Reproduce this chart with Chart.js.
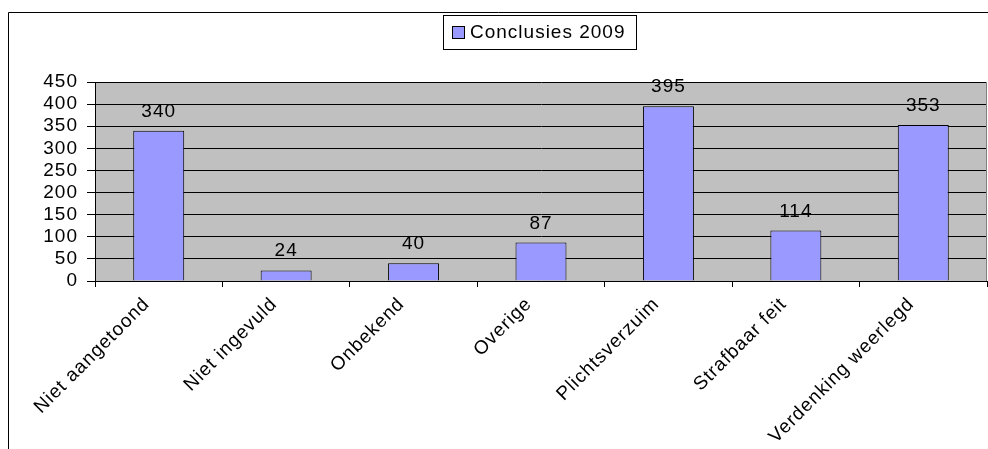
<!DOCTYPE html>
<html><head><meta charset="utf-8">
<script src="https://cdn.jsdelivr.net/npm/chart.js@4.4.0/dist/chart.umd.min.js"></script>
<style>html,body{margin:0;padding:0;background:#fff;}#wrap{width:988px;height:449px;position:relative;}</style>
</head><body><div id="wrap"><canvas id="c"></canvas></div>
<script>
const categories = ["Niet aangetoond","Niet ingevuld","Onbekend","Overige","Plichtsverzuim","Strafbaar feit","Verdenking weerlegd"];
const seriesName = "Conclusies 2009";
const values = [340, 24, 40, 87, 395, 114, 353];
const yTicks = [0,50,100,150,200,250,300,350,400,450];

const FONT = "'Liberation Sans', Arial, sans-serif";
const FS = 19;
const LS = '1px';

const framePlugin = {
  id: 'frame',
  beforeUpdate(chart) { chart.ctx.letterSpacing = LS; },
  beforeDraw(chart) {
    const ctx = chart.ctx, a = chart.chartArea;
    ctx.letterSpacing = LS;
    ctx.save();
    ctx.fillStyle = '#c0c0c0';
    ctx.fillRect(a.left, a.top, a.right - a.left, a.bottom - a.top);
    ctx.strokeStyle = '#000'; ctx.lineWidth = 1;
    ctx.beginPath();
    ctx.moveTo(8.5, 449); ctx.lineTo(8.5, 12.5); ctx.lineTo(988, 12.5);
    ctx.stroke();
    ctx.restore();
  },
  afterDraw(chart) {
    const ctx = chart.ctx, a = chart.chartArea;
    ctx.save();
    ctx.strokeStyle = '#808080'; ctx.lineWidth = 1;
    ctx.beginPath(); ctx.moveTo(a.right - 0.5, a.top); ctx.lineTo(a.right - 0.5, a.bottom); ctx.stroke();
    const meta = chart.getDatasetMeta(0);
    ctx.fillStyle = '#000';
    ctx.font = FS + 'px ' + FONT;
    ctx.textAlign = 'center'; ctx.textBaseline = 'alphabetic';
    meta.data.forEach((bar, i) => {
      ctx.fillText(String(values[i]), bar.x, bar.y - 14);
    });
    const lx = 443.5, ly = 15.5, lw = 193, lh = 34;
    ctx.fillStyle = '#fff';
    ctx.fillRect(lx, ly, lw, lh);
    ctx.strokeStyle = '#000';
    ctx.strokeRect(lx, ly, lw, lh);
    ctx.fillStyle = '#9999ff';
    ctx.fillRect(452.5, 26.5, 12, 12);
    ctx.strokeRect(452.5, 26.5, 12, 12);
    ctx.fillStyle = '#000';
    ctx.textAlign = 'left'; ctx.textBaseline = 'middle';
    ctx.fillText(seriesName, 470, 33);
    ctx.restore();
  }
};

new Chart(document.getElementById('c'), {
  type: 'bar',
  data: {
    labels: categories,
    datasets: [{
      label: seriesName,
      data: values,
      backgroundColor: '#9999ff',
      borderColor: '#000',
      borderWidth: 1,
      barPercentage: 0.4,
      categoryPercentage: 1.0
    }]
  },
  options: {
    responsive: true,
    maintainAspectRatio: false,
    animation: false,
    layout: { padding: { top: 82, left: 0, right: 1, bottom: 0 } },
    plugins: { legend: { display: false }, tooltip: { enabled: false } },
    scales: {
      x: {
        offset: true,
        grid: { offset: true, drawOnChartArea: false, drawTicks: true, tickLength: 6, color: '#000' },
        border: { color: '#000' },
        ticks: { color: '#000', font: { family: FONT, size: FS }, minRotation: 45, maxRotation: 45, autoSkip: false, padding: 6, labelOffset: -12 },
        afterFit(scale) { scale.height = 168; }
      },
      y: {
        min: 0, max: 450,
        afterBuildTicks(scale) { scale.ticks = yTicks.map(v => ({ value: v })); },
        grid: { color: '#000', drawTicks: true, tickLength: 8 },
        border: { color: '#000' },
        ticks: { color: '#000', font: { family: FONT, size: FS }, padding: 9, autoSkip: false },
        afterFit(scale) { scale.width = 95; }
      }
    }
  },
  plugins: [framePlugin]
});
</script></body></html>
